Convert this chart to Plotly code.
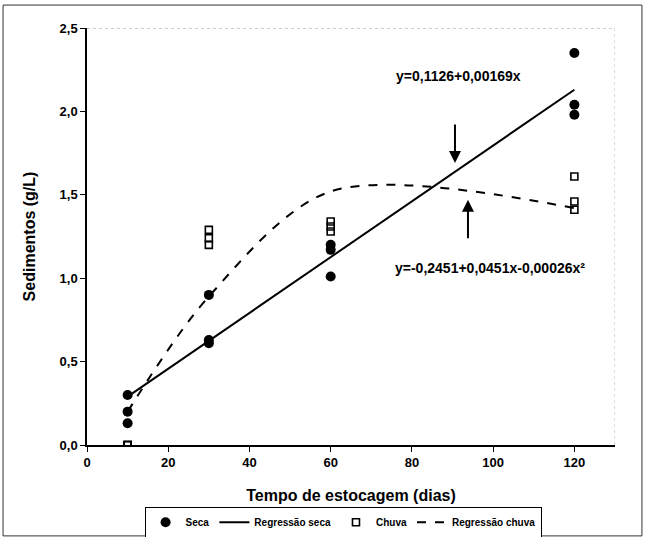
import plotly.graph_objects as go

# ---- data ----
seca_x = [10, 10, 10, 30, 30, 30, 60, 60, 60, 120, 120, 120]
seca_y = [0.30, 0.20, 0.13, 0.90, 0.63, 0.61, 1.20, 1.17, 1.01, 2.35, 2.04, 1.98]

chuva_x = [10, 10, 10, 30, 30, 30, 60, 60, 60, 120, 120, 120]
chuva_y = [0.0, 0.0, 0.0, 1.29, 1.24, 1.20, 1.34, 1.31, 1.28, 1.61, 1.46, 1.41]

reg_seca_x = [10, 120]
reg_seca_y = [0.29, 2.13]

reg_chuva_x = [10, 30, 60, 120]
reg_chuva_y = [0.20, 0.89, 1.52, 1.42]

x_ticks = [0, 20, 40, 60, 80, 100, 120]
y_ticks = [0.0, 0.5, 1.0, 1.5, 2.0, 2.5]
y_ticktext = ["0,0", "0,5", "1,0", "1,5", "2,0", "2,5"]

eq_seca = "y=0,1126+0,00169x"
eq_chuva = "y=-0,2451+0,0451x-0,00026x²"

FONT = "Liberation Sans, Arial, sans-serif"

def b(s):
    return "<b>" + s + "</b>"

fig = go.Figure()
fig.add_trace(go.Scatter(x=seca_x, y=seca_y, mode="markers", name=b("Seca"),
                         marker=dict(symbol="circle", size=10, color="black")))
fig.add_trace(go.Scatter(x=reg_seca_x, y=reg_seca_y, mode="lines", name=b("Regressão seca"),
                         line=dict(color="black", width=2)))
fig.add_trace(go.Scatter(x=chuva_x, y=chuva_y, mode="markers", name=b("Chuva"),
                         marker=dict(symbol="square-open", size=7, color="black",
                                     line=dict(width=1.6, color="black"))))
fig.add_trace(go.Scatter(x=reg_chuva_x, y=reg_chuva_y, mode="lines", name=b("Regressão chuva"),
                         line=dict(color="black", width=2, dash="dash", shape="spline", smoothing=0.9)))

axis_common = dict(showgrid=False, zeroline=False, showline=True, linecolor="black", linewidth=1.5,
                   ticks="outside", ticklen=5, tickwidth=1, tickcolor="black", automargin=False,
                   tickfont=dict(family=FONT, size=13, color="black"))

fig.update_xaxes(range=[0, 130], tickvals=x_ticks, ticktext=[b(str(v)) for v in x_ticks],
                 title=dict(text=b("Tempo de estocagem (dias)"), standoff=20,
                            font=dict(family=FONT, size=16, color="black")),
                 **axis_common)
fig.update_yaxes(range=[0, 2.5], tickvals=y_ticks, ticktext=[b(t) for t in y_ticktext],
                 title=dict(text=b("Sedimentos (g/L)"), standoff=20,
                            font=dict(family=FONT, size=16, color="black")),
                 **axis_common)

# equations and arrows
fig.add_annotation(x=91.5, y=2.21, text=b(eq_seca), showarrow=False,
                   font=dict(family=FONT, size=14, color="black"))
fig.add_annotation(x=90.6, y=1.69, ax=90.6, ay=1.93, axref="x", ayref="y", text="",
                   showarrow=True, arrowhead=2, arrowsize=1.2, arrowwidth=2, arrowcolor="black")
fig.add_annotation(x=99.3, y=1.06, text=b(eq_chuva), showarrow=False,
                   font=dict(family=FONT, size=14, color="black"))
fig.add_annotation(x=93.8, y=1.47, ax=93.8, ay=1.23, axref="x", ayref="y", text="",
                   showarrow=True, arrowhead=2, arrowsize=1.2, arrowwidth=2, arrowcolor="black")

# plot-area dotted top/right borders
fig.add_shape(type="line", xref="x", yref="y", x0=0, x1=130, y0=2.5, y1=2.5,
              line=dict(color="#999999", width=1, dash="dot"))
fig.add_shape(type="line", xref="x", yref="y", x0=130, x1=130, y0=0, y1=2.5,
              line=dict(color="#bbbbbb", width=1, dash="dot"))
# outer frame
fig.add_shape(type="rect", xref="paper", yref="paper", x0=-0.159, x1=1.051, y0=-0.218, y1=1.055,
              line=dict(color="#333333", width=1))

fig.update_layout(
    width=645, height=537,
    margin=dict(l=87, r=30, t=28, b=92, autoexpand=False),
    paper_bgcolor="white", plot_bgcolor="white",
    font=dict(family=FONT, color="black"),
    showlegend=True,
    legend=dict(orientation="h", x=0.485, xanchor="center", y=-0.148, yanchor="top",
                bordercolor="black", borderwidth=1, bgcolor="white",
                font=dict(family=FONT, size=10, color="black"),
                itemwidth=30, tracegroupgap=0),
)

fig.write_html("out.html")
